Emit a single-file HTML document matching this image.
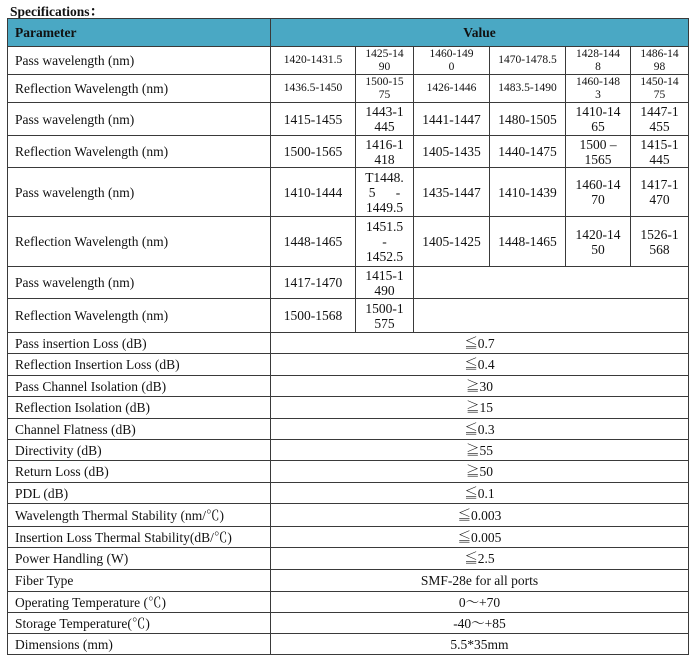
<!DOCTYPE html>
<html><head><meta charset="utf-8"><style>
body{margin:0;background:#fff;width:697px;height:665px;position:relative;overflow:hidden;font-family:"Liberation Serif","Noto Serif CJK SC",serif;color:#111}
.c{position:absolute;box-sizing:border-box;border:1px solid #3a3a3a;display:flex;align-items:center;justify-content:center;text-align:center;font-size:13.5px;line-height:15px;margin:0}
.l{justify-content:flex-start;text-align:left;padding-left:7px}
.s{font-size:11.5px;line-height:13px}
.h{background:#4aa8c4;font-weight:bold;font-size:13.5px}
</style></head><body>
<div style="position:absolute;left:10px;top:0px;font-weight:bold;font-size:13.5px">Specifications：</div>
<div id="t"></div>
<script>
var X=[7,270,355,413,489,565,630,688];
var Y=[18,46,74,102,135,167,216,266,298,332,353,375,396,418,439,460,482,503,526,547,569,591,612,633,654];
var out='';
function cell(x1,y1,x2,y2,t,cls){out+='<div class="c '+(cls||'')+'" style="left:'+x1+'px;top:'+y1+'px;width:'+(x2-x1+1)+'px;height:'+(y2-y1+1)+'px">'+t+'</div>';}
cell(X[0],Y[0],X[1],Y[1],'Parameter','h l');
cell(X[1],Y[0],X[7],Y[1],'Value','h');
var rows=[
['Pass wavelength (nm)',['1420-1431.5','1425-14<br>90','1460-149<br>0','1470-1478.5','1428-144<br>8','1486-14<br>98'],'s'],
['Reflection Wavelength (nm)',['1436.5-1450','1500-15<br>75','1426-1446','1483.5-1490','1460-148<br>3','1450-14<br>75'],'s'],
['Pass wavelength (nm)',['1415-1455','1443-1<br>445','1441-1447','1480-1505','1410-14<br>65','1447-1<br>455'],''],
['Reflection Wavelength (nm)',['1500-1565','1416-1<br>418','1405-1435','1440-1475','1500 –<br>1565','1415-1<br>445'],''],
['Pass wavelength (nm)',['1410-1444','T1448.<br>5&nbsp;&nbsp;&nbsp;&nbsp;&nbsp;&nbsp;-<br>1449.5','1435-1447','1410-1439','1460-14<br>70','1417-1<br>470'],''],
['Reflection Wavelength (nm)',['1448-1465','1451.5<br>-<br>1452.5','1405-1425','1448-1465','1420-14<br>50','1526-1<br>568'],''],
['Pass wavelength (nm)',['1417-1470','1415-1<br>490'],''],
['Reflection Wavelength (nm)',['1500-1568','1500-1<br>575'],'']
];
for(var i=0;i<rows.length;i++){
 var r=rows[i];cell(X[0],Y[i+1],X[1],Y[i+2],r[0],'l');
 for(var j=0;j<r[1].length;j++)cell(X[j+1],Y[i+1],X[j+2],Y[i+2],r[1][j],r[2]);
 if(r[1].length<6)cell(X[3],Y[i+1],X[7],Y[i+2],'','');
}
var sp=[['Pass insertion Loss (dB)','≦0.7'],['Reflection Insertion Loss (dB)','≦0.4'],['Pass Channel Isolation (dB)','≧30'],['Reflection Isolation (dB)','≧15'],['Channel Flatness (dB)','≦0.3'],['Directivity (dB)','≧55'],['Return Loss (dB)','≧50'],['PDL (dB)','≦0.1'],['Wavelength Thermal Stability (nm/℃)','≦0.003'],['Insertion Loss Thermal Stability(dB/℃)','≦0.005'],['Power Handling (W)','≦2.5'],['Fiber Type','SMF-28e for all ports'],['Operating Temperature (℃)','0～+70'],['Storage Temperature(℃)','-40～+85'],['Dimensions (mm)','5.5*35mm']];
for(var k=0;k<sp.length;k++){var y1=Y[9+k],y2=Y[10+k];cell(X[0],y1,X[1],y2,sp[k][0],'l');cell(X[1],y1,X[7],y2,sp[k][1],'');}
document.getElementById('t').innerHTML=out;
</script>
</body></html>
